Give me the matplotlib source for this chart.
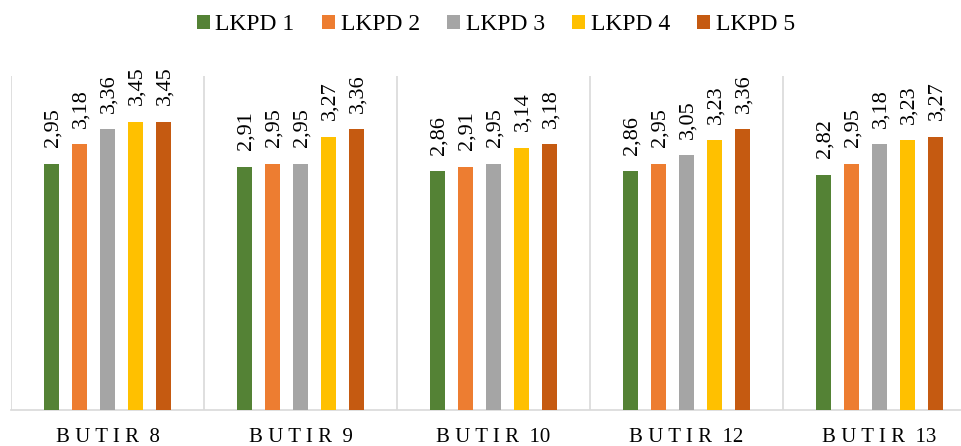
import numpy as np
import matplotlib
matplotlib.use("Agg")
import matplotlib.pyplot as plt
from matplotlib.patches import Patch

plt.rcParams['font.family'] = ['Liberation Serif', 'DejaVu Serif']

# data
categories = ["BUTIR 8", "BUTIR 9", "BUTIR 10", "BUTIR 12", "BUTIR 13"]
series_names = ["LKPD 1", "LKPD 2", "LKPD 3", "LKPD 4", "LKPD 5"]
lkpd1 = [2.95, 2.91, 2.86, 2.86, 2.82]
lkpd2 = [3.18, 2.95, 2.91, 2.95, 2.95]
lkpd3 = [3.36, 2.95, 2.95, 3.05, 3.18]
lkpd4 = [3.45, 3.27, 3.14, 3.23, 3.23]
lkpd5 = [3.45, 3.36, 3.18, 3.36, 3.27]
series = [lkpd1, lkpd2, lkpd3, lkpd4, lkpd5]
colors = ["#548235", "#ED7D31", "#A5A5A5", "#FFC000", "#C55A11"]


def spaced(label):
    # letter-spaced category text like the original
    word, num = label.split(" ")
    return " ".join(word) + "  " + num


fig = plt.figure(figsize=(9.61, 4.46), dpi=100)
# the right edge of the chart is cut off in the original
ax = fig.add_axes([11/961, 36/446, 965/961, 334/446])

x = np.arange(len(categories))
pitch = 0.145
width = 0.078
for i, (vals, c) in enumerate(zip(series, colors)):
    pos = x + (i - 2) * pitch
    ax.bar(pos, vals, width=width, color=c, zorder=3)
    for px, v in zip(pos, vals):
        ax.annotate(f"{v:.2f}".replace(".", ","), (px, v), xytext=(1, 12),
                    textcoords="offset points", rotation=90,
                    ha="center", va="bottom", fontsize=16)

ax.set_xlim(-0.5, len(categories) - 0.5)
ax.set_ylim(0, 4)
ax.vlines(np.arange(len(categories) + 1) - 0.5, 0, 4, color="#D9D9D9", lw=1.2, zorder=1)

for s in ["top", "right", "left"]:
    ax.spines[s].set_visible(False)
ax.spines["bottom"].set_color("#D9D9D9")
ax.spines["bottom"].set_linewidth(1.2)
ax.set_yticks([])
ax.set_xticks(x)
ax.set_xticklabels([spaced(c) for c in categories], fontsize=15)
ax.tick_params(axis="x", length=0, pad=13)

handles = [Patch(facecolor=c, label=n) for c, n in zip(colors, series_names)]
fig.legend(handles=handles, loc="center", bbox_to_anchor=(496/961, 1 - 25/446), ncol=5,
           frameon=False, fontsize=17, handlelength=0.55, handleheight=0.55,
           handletextpad=0.25, columnspacing=1.15)

fig.savefig("out.png", dpi=100)
